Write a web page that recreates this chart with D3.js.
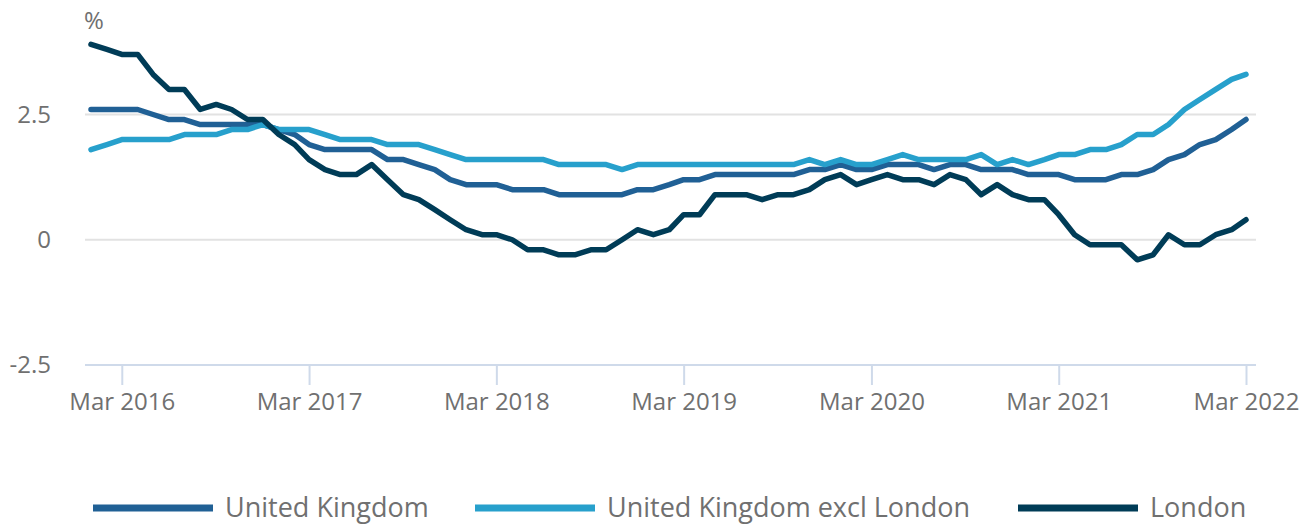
<!DOCTYPE html>
<html>
<head>
<meta charset="utf-8">
<script src="https://cdn.jsdelivr.net/npm/d3@7"></script>
<style>
  body { margin: 0; background: #fff; }
  svg text { font-family: "Open Sans", sans-serif; fill: #707070; }
</style>
</head>
<body>
<script>
// monthly, Jan 2016 .. Mar 2022
const months = d3.timeMonth.range(new Date(2016, 0, 1), new Date(2022, 3, 1));

const ukValues = [
  2.6,2.6,2.6,2.6,2.5,2.4,2.4,2.3,2.3,2.3,2.3,2.3,2.2,2.1,1.9,
  1.8,1.8,1.8,1.8,1.6,1.6,1.5,1.4,1.2,1.1,1.1,1.1,1.0,1.0,1.0,
  0.9,0.9,0.9,0.9,0.9,1.0,1.0,1.1,1.2,1.2,1.3,1.3,1.3,1.3,1.3,
  1.3,1.4,1.4,1.5,1.4,1.4,1.5,1.5,1.5,1.4,1.5,1.5,1.4,1.4,1.4,
  1.3,1.3,1.3,1.2,1.2,1.2,1.3,1.3,1.4,1.6,1.7,1.9,2.0,2.2,2.4
];
const ukExclLondonValues = [
  1.8,1.9,2.0,2.0,2.0,2.0,2.1,2.1,2.1,2.2,2.2,2.3,2.2,2.2,2.2,
  2.1,2.0,2.0,2.0,1.9,1.9,1.9,1.8,1.7,1.6,1.6,1.6,1.6,1.6,1.6,
  1.5,1.5,1.5,1.5,1.4,1.5,1.5,1.5,1.5,1.5,1.5,1.5,1.5,1.5,1.5,
  1.5,1.6,1.5,1.6,1.5,1.5,1.6,1.7,1.6,1.6,1.6,1.6,1.7,1.5,1.6,
  1.5,1.6,1.7,1.7,1.8,1.8,1.9,2.1,2.1,2.3,2.6,2.8,3.0,3.2,3.3
];
const londonValues = [
  3.9,3.8,3.7,3.7,3.3,3.0,3.0,2.6,2.7,2.6,2.4,2.4,2.1,1.9,1.6,
  1.4,1.3,1.3,1.5,1.2,0.9,0.8,0.6,0.4,0.2,0.1,0.1,0.0,-0.2,-0.2,
  -0.3,-0.3,-0.2,-0.2,0.0,0.2,0.1,0.2,0.5,0.5,0.9,0.9,0.9,0.8,0.9,
  0.9,1.0,1.2,1.3,1.1,1.2,1.3,1.2,1.2,1.1,1.3,1.2,0.9,1.1,0.9,
  0.8,0.8,0.5,0.1,-0.1,-0.1,-0.1,-0.4,-0.3,0.1,-0.1,-0.1,0.1,0.2,0.4
];

const seriesNames = ["United Kingdom", "United Kingdom excl London", "London"];
const seriesColors = ["#206095", "#27a0cc", "#003c57"];
const tickYears = [2016, 2017, 2018, 2019, 2020, 2021, 2022];
const yTicks = [-2.5, 0, 2.5];

const series = [ukValues, ukExclLondonValues, londonValues].map((vals, i) => ({
  name: seriesNames[i], color: seriesColors[i],
  points: vals.map((v, j) => ({date: months[j], value: v}))
}));

const W = 1312, H = 529;
const plotLeft = 85, plotRight = 1256;

const svg = d3.select("body").append("svg")
  .attr("width", W).attr("height", H);

const x = d3.scaleTime()
  .domain([months[0], months[months.length - 1]])
  .range([91, 1246]);
const y = d3.scaleLinear()
  .domain([-2.5, 2.5])
  .range([365, 114.5]);

// gridlines
svg.append("g")
  .selectAll("line")
  .data(yTicks.filter(d => d > -2.5))
  .join("line")
    .attr("x1", plotLeft).attr("x2", plotRight)
    .attr("y1", d => y(d)).attr("y2", d => y(d))
    .attr("stroke", "#e2e2e2").attr("stroke-width", 2);

// x axis
const xAxis = svg.append("g")
  .attr("transform", `translate(0,${y(-2.5)})`)
  .call(d3.axisBottom(x)
    .tickValues(tickYears.map(yr => new Date(yr, 2, 1)))
    .tickFormat(d3.timeFormat("%b %Y"))
    .tickSize(20).tickPadding(8));
xAxis.select(".domain").remove();
xAxis.append("line")
  .attr("x1", plotLeft).attr("x2", plotRight)
  .attr("stroke", "#cfdaea").attr("stroke-width", 2);
xAxis.selectAll(".tick line").attr("stroke", "#cfdaea").attr("stroke-width", 2);
xAxis.selectAll(".tick text").attr("font-size", 24).attr("fill", "#707070");

// y axis labels
const yAxis = svg.append("g")
  .attr("transform", "translate(51,0)")
  .call(d3.axisLeft(y).tickValues(yTicks).tickFormat(d => String(d))
    .tickSize(0).tickPadding(0));
yAxis.select(".domain").remove();
yAxis.selectAll(".tick text").attr("font-size", 24).attr("fill", "#707070");

svg.append("text")
  .attr("x", 84).attr("y", 29)
  .attr("font-size", 24)
  .text("%");

// lines
const line = d3.line()
  .x(d => x(d.date))
  .y(d => y(d.value));

svg.append("g")
  .selectAll("path")
  .data(series)
  .join("path")
    .attr("d", d => line(d.points))
    .attr("fill", "none")
    .attr("stroke", d => d.color)
    .attr("stroke-width", 5.5)
    .attr("stroke-linejoin", "round")
    .attr("stroke-linecap", "round");

// legend
const legendX = [93, 475, 1018];
const legend = svg.append("g")
  .selectAll("g")
  .data(series)
  .join("g")
    .attr("transform", (d, i) => `translate(${legendX[i]},508)`);
legend.append("line")
  .attr("x1", 0).attr("x2", 120)
  .attr("stroke", d => d.color)
  .attr("stroke-width", 7);
legend.append("text")
  .attr("x", 132).attr("dy", "0.35em")
  .attr("font-size", 27)
  .text(d => d.name);
</script>
</body>
</html>
